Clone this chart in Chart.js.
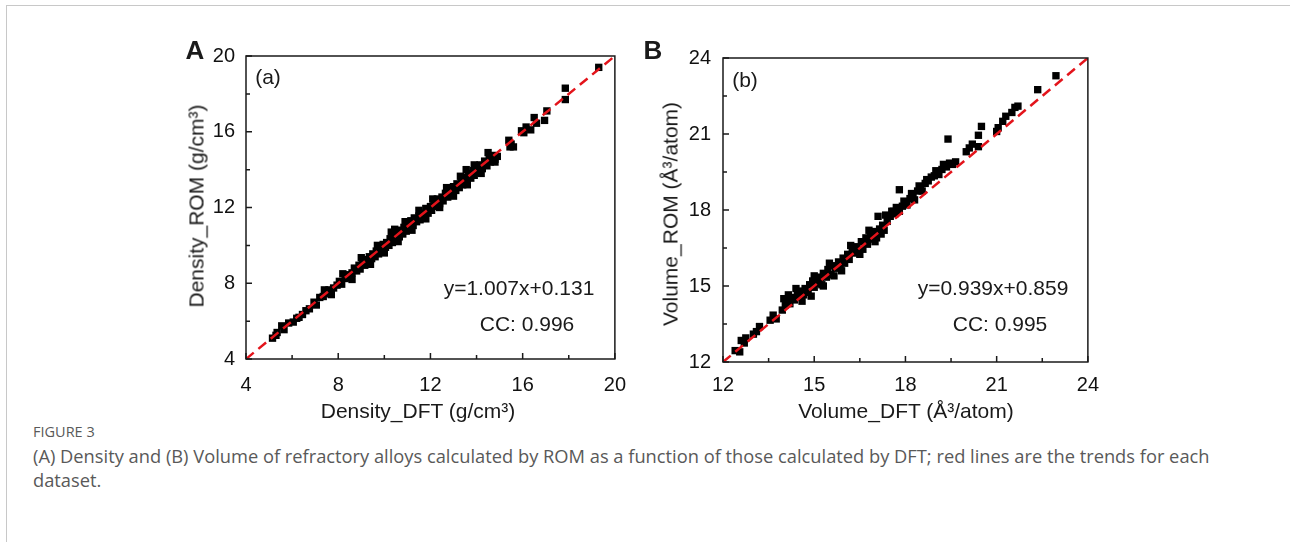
<!DOCTYPE html>
<html>
<head>
<meta charset="utf-8">
<script src="https://cdn.jsdelivr.net/npm/chart.js@4.4.1/dist/chart.umd.min.js"></script>
<style>
  body { margin: 0; background: #fff; width: 1290px; height: 542px; overflow: hidden; position: relative; font-family: "Liberation Sans", Arial, sans-serif; color: #1a1a1a; }
  .frame { position: absolute; left: 6px; top: 5px; right: 0; bottom: 0; border-left: 1px solid #c8c8c8; border-top: 1px solid #c8c8c8; }
  .panel { position: absolute; top: 30px; }
  .lbl { position: absolute; white-space: nowrap; transform: translate(-50%, -50%); font-size: 21px; line-height: 1; }
  .rot { transform: translate(-50%, -50%) rotate(-90deg); }
  .big { font-weight: bold; font-size: 26px; }
  .cap { position: absolute; left: 33px; font-family: "Open Sans", sans-serif; font-size: 18.3px; line-height: 24px; color: #595959; white-space: nowrap; }
</style>
</head>
<body>
<div class="frame"></div>

<canvas id="chartA" class="panel" style="left:150px" width="490" height="400"></canvas>
<canvas id="chartB" class="panel" style="left:620px" width="490" height="400"></canvas>

<div class="lbl big" style="left:195px;top:50px">A</div>
<div class="lbl" style="left:268px;top:76px">(a)</div>
<div class="lbl" style="left:519px;top:287px">y=1.007x+0.131</div>
<div class="lbl" style="left:527px;top:323px">CC: 0.996</div>
<div class="lbl" style="left:418px;top:410px">Density_DFT (g/cm³)</div>
<div class="lbl rot" style="left:196px;top:206px">Density_ROM (g/cm³)</div>

<div class="lbl big" style="left:653px;top:50px">B</div>
<div class="lbl" style="left:745px;top:79px">(b)</div>
<div class="lbl" style="left:993px;top:287px">y=0.939x+0.859</div>
<div class="lbl" style="left:1000px;top:323px">CC: 0.995</div>
<div class="lbl" style="left:906px;top:410px">Volume_DFT (Å³/atom)</div>
<div class="lbl rot" style="left:670px;top:214px">Volume_ROM (Å³/atom)</div>

<div class="cap" style="top:420px;font-size:14.5px">FIGURE 3</div>
<div class="cap" style="top:444px">(A) Density and (B) Volume of refractory alloys calculated by ROM as a function of those calculated by DFT; red lines are the trends for each</div>
<div class="cap" style="top:468px">dataset.</div>

<script>
// panel A: density (g/cm3), DFT vs ROM
const DENS_DFT = [5.15,5.30,5.35,5.65,5.85,6.05,6.20,6.45,6.60,6.75,6.95,7.05,7.20,7.35,7.55,7.60,7.80,7.95,8.05,8.15,
  8.30,8.40,8.50,8.60,8.70,8.80,8.90,8.95,9.05,9.15,9.20,9.30,9.35,9.45,9.50,9.60,9.65,9.75,9.80,9.90,
  9.95,10.05,10.10,10.20,10.25,10.35,10.40,10.50,10.55,10.65,10.70,10.80,10.85,10.95,11.00,11.10,11.15,11.25,11.30,11.40,
  11.50,11.55,11.65,11.75,11.80,11.90,12.00,12.05,12.15,12.25,12.30,12.40,12.50,12.55,12.65,12.75,12.85,12.90,13.00,13.10,
  13.15,13.25,13.35,13.40,13.50,13.60,13.65,13.75,13.85,13.90,14.00,14.10,14.15,14.25,14.35,14.45,14.55,14.60,14.70,14.80,
  14.90,15.40,15.50,15.60,15.95,16.15,16.35,16.50,16.60,16.95,17.05,17.85,17.85,19.30,
  5.55,6.30,7.40,7.70,8.20,8.60,9.00,9.40,9.70,10.00,10.30,10.45,10.60,10.90,11.20,11.50,11.80,12.10,12.40,12.70,
  13.00,13.30,13.55,13.60,13.90,14.20,14.50,14.80,15.45,16.05];
const DENS_ROM = [5.10,5.25,5.40,5.55,5.90,5.95,6.15,6.35,6.55,6.65,7.00,6.85,7.25,7.30,7.45,7.65,7.75,7.90,8.10,7.95,
  8.25,8.45,8.30,8.55,8.80,8.65,8.95,8.75,9.10,8.95,9.25,9.15,9.40,9.30,9.55,9.40,9.70,9.55,9.85,9.70,
  10.05,9.90,10.15,10.00,10.35,10.15,10.60,10.35,10.65,10.45,10.80,10.60,10.95,10.75,11.10,10.90,11.30,11.05,11.45,11.25,
  11.55,11.35,11.70,11.55,11.95,11.70,12.05,11.85,12.25,12.05,12.45,12.20,12.55,12.35,12.75,12.55,12.95,12.70,13.10,12.90,
  13.25,13.05,13.45,13.20,13.60,13.35,13.80,13.55,13.95,13.70,14.10,13.85,14.25,14.05,14.45,14.20,14.60,14.40,14.75,14.55,
  14.70,15.55,15.35,15.20,16.05,16.25,16.10,16.75,16.45,16.60,17.10,18.30,17.70,19.40,
  5.75,6.20,7.65,7.40,8.50,8.20,9.35,9.00,10.00,9.60,10.70,10.85,10.20,11.25,10.80,11.85,11.40,12.45,12.00,13.05,
  12.60,13.65,14.00,13.20,14.25,13.80,14.90,14.40,15.20,15.95];
const DENS_TREND = [4, 20];
const DENS_MAJOR = [4, 8, 12, 16, 20];
const DENS_MINOR = [6, 10, 14, 18];

// panel B: volume (A^3/atom), DFT vs ROM
const VOL_DFT = [12.40,12.55,12.70,12.75,13.10,13.20,13.55,13.65,13.75,13.95,14.05,14.10,14.15,14.20,14.30,14.35,14.45,14.50,14.55,14.65,
  14.70,14.80,14.85,14.90,14.95,15.00,15.05,15.15,15.20,15.25,15.30,15.40,15.45,15.55,15.60,15.65,15.70,15.80,15.85,15.95,
  16.00,16.10,16.15,16.25,16.30,16.40,16.45,16.55,16.60,16.70,16.75,16.85,16.90,17.00,17.05,17.10,17.15,17.25,17.30,17.40,
  17.50,17.55,17.65,17.70,17.80,17.80,17.90,18.00,18.05,18.15,18.25,18.30,18.40,18.50,18.55,18.65,18.75,18.85,18.95,19.05,
  19.10,19.20,19.25,19.35,19.40,19.45,19.65,20.00,20.10,20.20,20.40,20.40,20.50,21.00,21.05,21.20,21.30,21.50,21.60,21.70,
  22.35,22.95,
  12.60,13.00,14.00,14.40,14.60,15.00,15.30,15.50,15.90,16.20,16.50,16.80,17.00,17.20,17.35,17.60,17.95,18.20,18.45,18.70,
  19.00,19.55];
const VOL_ROM = [12.45,12.40,12.75,12.95,13.20,13.40,13.65,13.85,13.70,14.05,14.25,14.40,14.65,14.30,14.55,14.45,14.70,14.55,14.80,14.65,
  14.90,14.75,15.05,14.60,15.20,14.95,15.30,15.10,15.35,15.05,15.50,15.35,15.65,15.45,15.80,15.40,15.70,15.95,15.75,16.10,
  15.90,16.25,16.05,16.45,16.30,16.55,16.35,16.75,16.45,16.90,16.65,17.05,16.85,17.15,16.90,17.75,17.25,17.40,17.20,17.55,
  17.75,17.95,17.85,18.10,18.80,17.95,18.15,18.30,18.20,18.45,18.55,18.40,18.75,18.90,18.75,19.05,19.15,19.30,19.35,19.45,
  19.40,19.60,19.80,19.70,20.80,19.85,19.90,20.30,20.45,20.60,20.50,20.95,21.30,21.10,21.25,21.50,21.70,21.85,22.05,22.10,
  22.75,23.30,
  12.85,13.10,14.50,14.90,14.40,15.40,15.00,15.90,15.60,16.60,16.25,17.20,16.75,17.05,17.80,17.95,18.35,18.65,18.95,19.20,
  19.55,19.80];
const VOL_TREND = [12, 24];
const VOL_MAJOR = [12, 15, 18, 21, 24];
const VOL_MINOR = [13.5, 16.5, 19.5, 22.5];

Chart.defaults.font.family = '"Liberation Sans", Arial, sans-serif';
Chart.defaults.color = '#111';

// box round the plot, ticks pointing inward on bottom and left
const boxTicks = {
  id: 'boxTicks',
  afterDraw(chart, args, opts) {
    const { ctx, chartArea: a, scales: { x, y } } = chart;
    ctx.save();
    ctx.strokeStyle = '#1a1a1a';
    ctx.lineWidth = 1.5;
    ctx.strokeRect(a.left, a.top, a.right - a.left, a.bottom - a.top);
    ctx.beginPath();
    const tick = (v, len) => {
      const px = x.getPixelForValue(v);
      ctx.moveTo(px, a.bottom); ctx.lineTo(px, a.bottom - len);
      const py = y.getPixelForValue(v);
      ctx.moveTo(a.left, py); ctx.lineTo(a.left + len, py);
    };
    opts.major.forEach(v => tick(v, 6));
    opts.minor.forEach(v => tick(v, 4));
    ctx.stroke();
    ctx.restore();
  }
};

function makePanel(id, xs, ys, trend, major, minor, box) {
  const pts = xs.map((v, i) => ({ x: v, y: ys[i] }));
  const lo = trend[0], hi = trend[1];
  const axis = (fitKey, fitSize, pad) => ({
    type: 'linear', min: lo, max: hi,
    grid: { display: false, drawTicks: false },
    border: { display: false },
    ticks: { font: { size: 20 }, color: '#111', padding: pad },
    afterBuildTicks: s => { s.ticks = major.map(v => ({ value: v })); },
    afterFit: s => { s[fitKey] = fitSize; }
  });
  return new Chart(document.getElementById(id), {
    type: 'scatter',
    data: {
      datasets: [
        {
          type: 'line', data: [{ x: lo, y: lo }, { x: hi, y: hi }],
          borderColor: '#e3141b', borderWidth: 2.5, borderDash: [10, 6],
          pointRadius: 0, fill: false, order: 0
        },
        {
          data: pts, pointStyle: 'rect', pointRadius: 5.2,
          backgroundColor: '#000', borderWidth: 0, order: 1
        }
      ]
    },
    options: {
      responsive: false, animation: false,
      layout: { padding: { top: box.top, right: box.right, left: 0, bottom: 0 } },
      plugins: { legend: { display: false }, tooltip: { enabled: false }, boxTicks: { major, minor } },
      scales: {
        x: axis('height', box.xh, box.xpad),
        y: axis('width', box.yw, box.ypad)
      }
    },
    plugins: [boxTicks]
  });
}

makePanel('chartA', DENS_DFT, DENS_ROM, DENS_TREND, DENS_MAJOR, DENS_MINOR,
  { top: 26, right: 19, yw: 96, xh: 71, ypad: 11, xpad: 14 });
makePanel('chartB', VOL_DFT, VOL_ROM, VOL_TREND, VOL_MAJOR, VOL_MINOR,
  { top: 28, right: 15, yw: 103, xh: 68, ypad: 12, xpad: 11 });
</script>
</body>
</html>
